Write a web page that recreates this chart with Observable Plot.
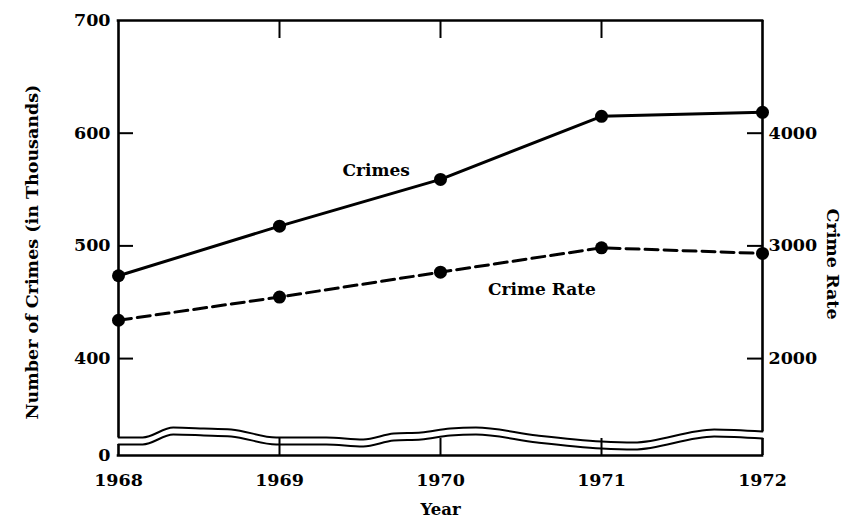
<!DOCTYPE html>
<html><head><meta charset="utf-8">
<script src="https://cdn.jsdelivr.net/npm/d3@7"></script>
<script src="https://cdn.jsdelivr.net/npm/@observablehq/plot@0.6"></script>
<style>body{margin:0;background:#fff}</style>
</head><body><div id="chart"></div>
<script>
// ---- data ----
const years = [1968, 1969, 1970, 1971, 1972];
const crimes = [473.5, 517.5, 559, 615, 618.5];      // number of crimes, thousands (left axis)
const crimeRate = [2340, 2546, 2767, 2983, 2933];    // crime rate (right axis)
const leftTicks = [314, 400, 500, 600, 700];          // 314 = bottom of the broken axis, labelled "0"
const leftTickLabels = ["0", "400", "500", "600", "700"];
const rightTicks = [2000, 3000, 4000];
const innerXTicks = [1969, 1970, 1971];
// axis-break wave (two parallel lines)
const breakX     = [1968, 1968.15, 1968.34, 1968.53, 1968.70, 1968.98, 1969.29, 1969.52, 1969.71, 1969.88, 1970.06, 1970.22, 1970.60, 1971.00, 1971.20, 1971.70, 1972];
const breakUpper = [330.0, 330.0, 338.8, 338.0, 337.1, 330.0, 330.0, 328.2, 333.5, 334.4, 338.0, 338.8, 331.7, 326.4, 325.5, 337.1, 335.3];
const breakLower = [323.8, 323.8, 332.6, 331.8, 330.9, 323.8, 323.8, 322.0, 327.3, 328.2, 331.8, 332.6, 325.5, 320.2, 319.3, 330.9, 329.1];
const seriesLabels = ["Crimes", "Crime Rate"];
const labelX = [1969.6, 1970.63];
const labelY = [567, 461];

// right axis maps onto left axis: rate = 10*crimes - 2000
const rateToLeft = r => (r + 2000) / 10;
const yMin = leftTicks[0], yMax = leftTicks[leftTicks.length - 1];

const crimeData = years.map((y, i) => ({year: y, v: crimes[i]}));
const rateData = years.map((y, i) => ({year: y, v: rateToLeft(crimeRate[i])}));
const breakData = breakX.map((x, i) => ({x, up: breakUpper[i], lo: breakLower[i]}));
const labelData = seriesLabels.map((t, i) => ({t, x: labelX[i], y: labelY[i]}));

const W = 842, H = 523, mL = 118, mR = 80, mT = 20, mB = 68;
const pw = W - mL - mR, ph = H - mT - mB;
const font = "'DejaVu Serif', serif";
const sw = 2.6;
const tickFont = 17.5;

const chart = Plot.plot({
  width: W, height: H,
  marginLeft: mL, marginRight: mR, marginTop: mT, marginBottom: mB,
  style: {fontFamily: font, fontSize: "16px", fontWeight: "bold", color: "#000", background: "#fff"},
  x: {domain: [1968, 1972]},
  y: {domain: [yMin, yMax]},
  marks: [
    // frame (broken at the wave)
    Plot.ruleY([yMax], {x1: 1968, x2: 1972, strokeWidth: sw, strokeLinecap: "square"}),
    Plot.ruleY([yMin], {x1: 1968, x2: 1972, strokeWidth: sw, strokeLinecap: "square"}),
    Plot.ruleX([1968], {y1: breakUpper[0], y2: yMax, strokeWidth: sw}),
    Plot.ruleX([1968], {y1: yMin, y2: breakLower[0], strokeWidth: sw}),
    Plot.ruleX([1972], {y1: breakUpper[breakUpper.length - 1], y2: yMax, strokeWidth: sw}),
    Plot.ruleX([1972], {y1: yMin, y2: breakLower[breakLower.length - 1], strokeWidth: sw}),
    // break wave
    Plot.line(breakData, {x: "x", y: "up", curve: "monotone-x", strokeWidth: 2}),
    Plot.line(breakData, {x: "x", y: "lo", curve: "monotone-x", strokeWidth: 2}),
    // inward ticks
    Plot.tickY(leftTicks.slice(1, 4), {y: d => d, insetRight: pw - 15, strokeWidth: 2}),
    Plot.tickY(rightTicks.map(rateToLeft), {y: d => d, insetLeft: pw - 15, strokeWidth: 2}),
    Plot.tickX(innerXTicks, {x: d => d, insetBottom: ph - 18, strokeWidth: 2}),
    Plot.tickX(innerXTicks, {x: d => d, insetTop: ph - 17, strokeWidth: 2}),
    // axis labels
    Plot.axisX(years, {tickSize: 0, tickPadding: 18, tickFormat: d => String(d), label: null, fontSize: tickFont}),
    Plot.axisY(leftTicks, {anchor: "left", tickSize: 0, tickPadding: 8, label: null, fontSize: tickFont,
      tickFormat: d => leftTickLabels[leftTicks.indexOf(d)]}),
    Plot.axisY(rightTicks.map(rateToLeft), {anchor: "right", tickSize: 0, tickPadding: 6, label: null, fontSize: tickFont,
      tickFormat: d => String(Math.round(d * 10 - 2000))}),
    // axis titles
    Plot.text(["Number of Crimes (in Thousands)"], {frameAnchor: "left", textAnchor: "middle", dx: -86, dy: 14, rotate: -90, fontSize: 17.5, fontWeight: "bold"}),
    Plot.text(["Crime Rate"], {frameAnchor: "right", textAnchor: "middle", dx: 70, dy: 26, rotate: 90, fontSize: 17.5, fontWeight: "bold"}),
    Plot.text(["Year"], {frameAnchor: "bottom", dy: 59, fontSize: 16.5, fontWeight: "bold"}),
    // series
    Plot.line(crimeData, {x: "year", y: "v", strokeWidth: 3}),
    Plot.line(rateData, {x: "year", y: "v", strokeWidth: 3, strokeDasharray: "13,6"}),
    Plot.dot(crimeData, {x: "year", y: "v", r: 6.5, fill: "#000"}),
    Plot.dot(rateData, {x: "year", y: "v", r: 6.5, fill: "#000"}),
    // series labels
    Plot.text(labelData, {x: "x", y: "y", text: "t", fontSize: 17, fontWeight: "bold"})
  ]
});
document.getElementById("chart").appendChild(chart);
</script>
</body></html>
